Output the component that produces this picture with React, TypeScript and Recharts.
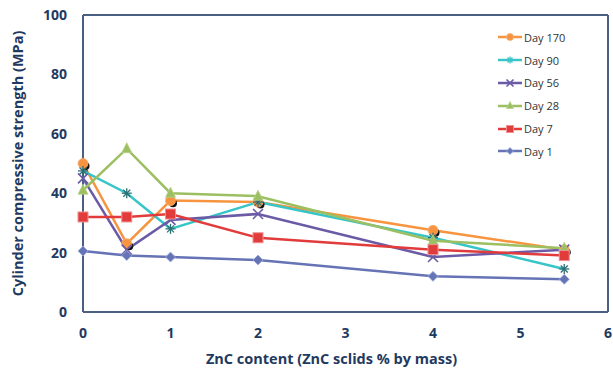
import React from "react";
import { LineChart, Line, XAxis, YAxis, Label } from "recharts";

const zncContent = [0, 0.5, 1, 2, 4, 5.5];
const day170 = [50, 23, 37.5, 37, 27.5, 21];
const day90 = [47.5, 40, 28, 37, 25, 14.5];
const day56 = [45, 21, 31, 33, 18.5, 21];
const day28 = [41, 55, 40, 39, 24, 21.5];
const day7 = [32, 32, 33, 25, 21, 19];
const day1 = [20.5, 19, 18.5, 17.5, 12, 11];
const xTicks = [0, 1, 2, 3, 4, 5, 6];
const yTicks = [0, 20, 40, 60, 80, 100];

const data = zncContent.map((x, i) => ({
  x,
  d170: day170[i],
  d90: day90[i],
  d56: day56[i],
  d28: day28[i],
  d7: day7[i],
  d1: day1[i],
}));

const NAVY = "#1F3A60";
const AXIS = "#4B5F82";

type Shape = "circle" | "star" | "x" | "triangle" | "square" | "diamond";

function Marker({ cx, cy, shape, color, legend }: { cx: number; cy: number; shape: Shape; color: string; legend?: boolean }) {
  const s = legend ? 3.5 : 5;
  switch (shape) {
    case "circle":
      return (
        <g>
          {!legend && <circle cx={cx + 2.5} cy={cy + 2.5} r={4} fill="#111" />}
          <circle cx={cx} cy={cy} r={s} fill={color} stroke="#f4b07a" strokeWidth={0.8} />
        </g>
      );
    case "star":
      return (
        <g stroke={legend ? color : "#2a6f73"} strokeWidth={1.3}>
          <line x1={cx - s} y1={cy} x2={cx + s} y2={cy} />
          <line x1={cx - s * 0.7} y1={cy - s * 0.7} x2={cx + s * 0.7} y2={cy + s * 0.7} />
          <line x1={cx - s * 0.7} y1={cy + s * 0.7} x2={cx + s * 0.7} y2={cy - s * 0.7} />
          <line x1={cx} y1={cy - s} x2={cx} y2={cy + s} />
        </g>
      );
    case "x":
      return (
        <g stroke={color} strokeWidth={1.6}>
          <line x1={cx - s} y1={cy - s} x2={cx + s} y2={cy + s} />
          <line x1={cx - s} y1={cy + s} x2={cx + s} y2={cy - s} />
        </g>
      );
    case "triangle":
      return <polygon points={`${cx},${cy - s - 1} ${cx - s},${cy + s - 1} ${cx + s},${cy + s - 1}`} fill={color} stroke="#b8d08a" strokeWidth={0.8} />;
    case "square":
      return <rect x={cx - s} y={cy - s} width={2 * s} height={2 * s} fill={color} stroke="#f09090" strokeWidth={1} />;
    case "diamond":
      return <polygon points={`${cx},${cy - s} ${cx + s},${cy} ${cx},${cy + s} ${cx - s},${cy}`} fill={color} stroke="#a0b0e0" strokeWidth={0.8} />;
  }
  return null;
}

const series: { key: string; name: string; color: string; shape: Shape }[] = [
  { key: "d170", name: "Day 170", color: "#F7943F", shape: "circle" },
  { key: "d90", name: "Day 90", color: "#38C5C8", shape: "star" },
  { key: "d56", name: "Day 56", color: "#6B5BA6", shape: "x" },
  { key: "d28", name: "Day 28", color: "#9CBF62", shape: "triangle" },
  { key: "d7", name: "Day 7", color: "#E23B3B", shape: "square" },
  { key: "d1", name: "Day 1", color: "#6673B5", shape: "diamond" },
];

function LegendBox() {
  return (
    <div style={{ position: "absolute", left: 498, top: 26, width: 100, fontFamily: "'Open Sans', sans-serif", fontSize: 11, color: "#333" }}>
      {series.map((s) => (
        <div key={s.key} style={{ display: "flex", alignItems: "center", height: 22.8 }}>
          <svg width={24} height={12} style={{ marginRight: 2 }}>
            <line x1={0} y1={6} x2={24} y2={6} stroke={s.color} strokeWidth={2.5} />
            <Marker cx={12} cy={6} shape={s.shape} color={s.color} legend />
          </svg>
          <span>{s.name}</span>
        </div>
      ))}
    </div>
  );
}

const tickStyle = { fill: NAVY, fontSize: 14, fontWeight: 700, fontFamily: "'Open Sans', sans-serif" };
const titleStyle = { fill: NAVY, fontSize: 14.5, fontWeight: 700, fontFamily: "'Open Sans', sans-serif" };

export default function App() {
  return (
    <div style={{ position: "absolute", left: 0, top: 0, width: 613, height: 369, background: "#fff" }}>
      <LineChart width={613} height={369} data={data} margin={{ top: 14, right: 4, bottom: 0, left: 0 }}>
        <XAxis xAxisId="top" orientation="top" type="number" domain={[0, 6]} height={1} tick={false} tickLine={false} axisLine={{ stroke: AXIS, strokeWidth: 2 }} />
        <YAxis yAxisId="right" orientation="right" type="number" domain={[0, 100]} width={1} tick={false} tickLine={false} axisLine={{ stroke: AXIS, strokeWidth: 2 }} />
        <XAxis
          dataKey="x"
          type="number"
          domain={[0, 6]}
          ticks={xTicks}
          height={57}
          tickLine={false}
          tickMargin={10}
          axisLine={{ stroke: AXIS, strokeWidth: 2 }}
          tick={tickStyle}
        >
          <Label value="ZnC content (ZnC sclids % by mass)" position="insideBottom" offset={5} dx={-14} style={titleStyle} />
        </XAxis>
        <YAxis
          type="number"
          domain={[0, 100]}
          ticks={yTicks}
          width={83}
          tickLine={false}
          tickMargin={10}
          axisLine={{ stroke: AXIS, strokeWidth: 2 }}
          tick={tickStyle}
        >
          <Label
            value="Cylinder compressive strength (MPa)"
            angle={-90}
            position="insideLeft"
            offset={18}
            style={{ ...titleStyle, textAnchor: "middle" }}
          />
        </YAxis>
        {series.map((s) => (
          <Line
            key={s.key}
            dataKey={s.key}
            name={s.name}
            stroke={s.color}
            strokeWidth={2.5}
            isAnimationActive={false}
            dot={(p: any) => <Marker key={`${s.key}-${p.index}`} cx={p.cx} cy={p.cy} shape={s.shape} color={s.color} />}
            activeDot={false}
          />
        ))}
      </LineChart>
      <LegendBox />
    </div>
  );
}
